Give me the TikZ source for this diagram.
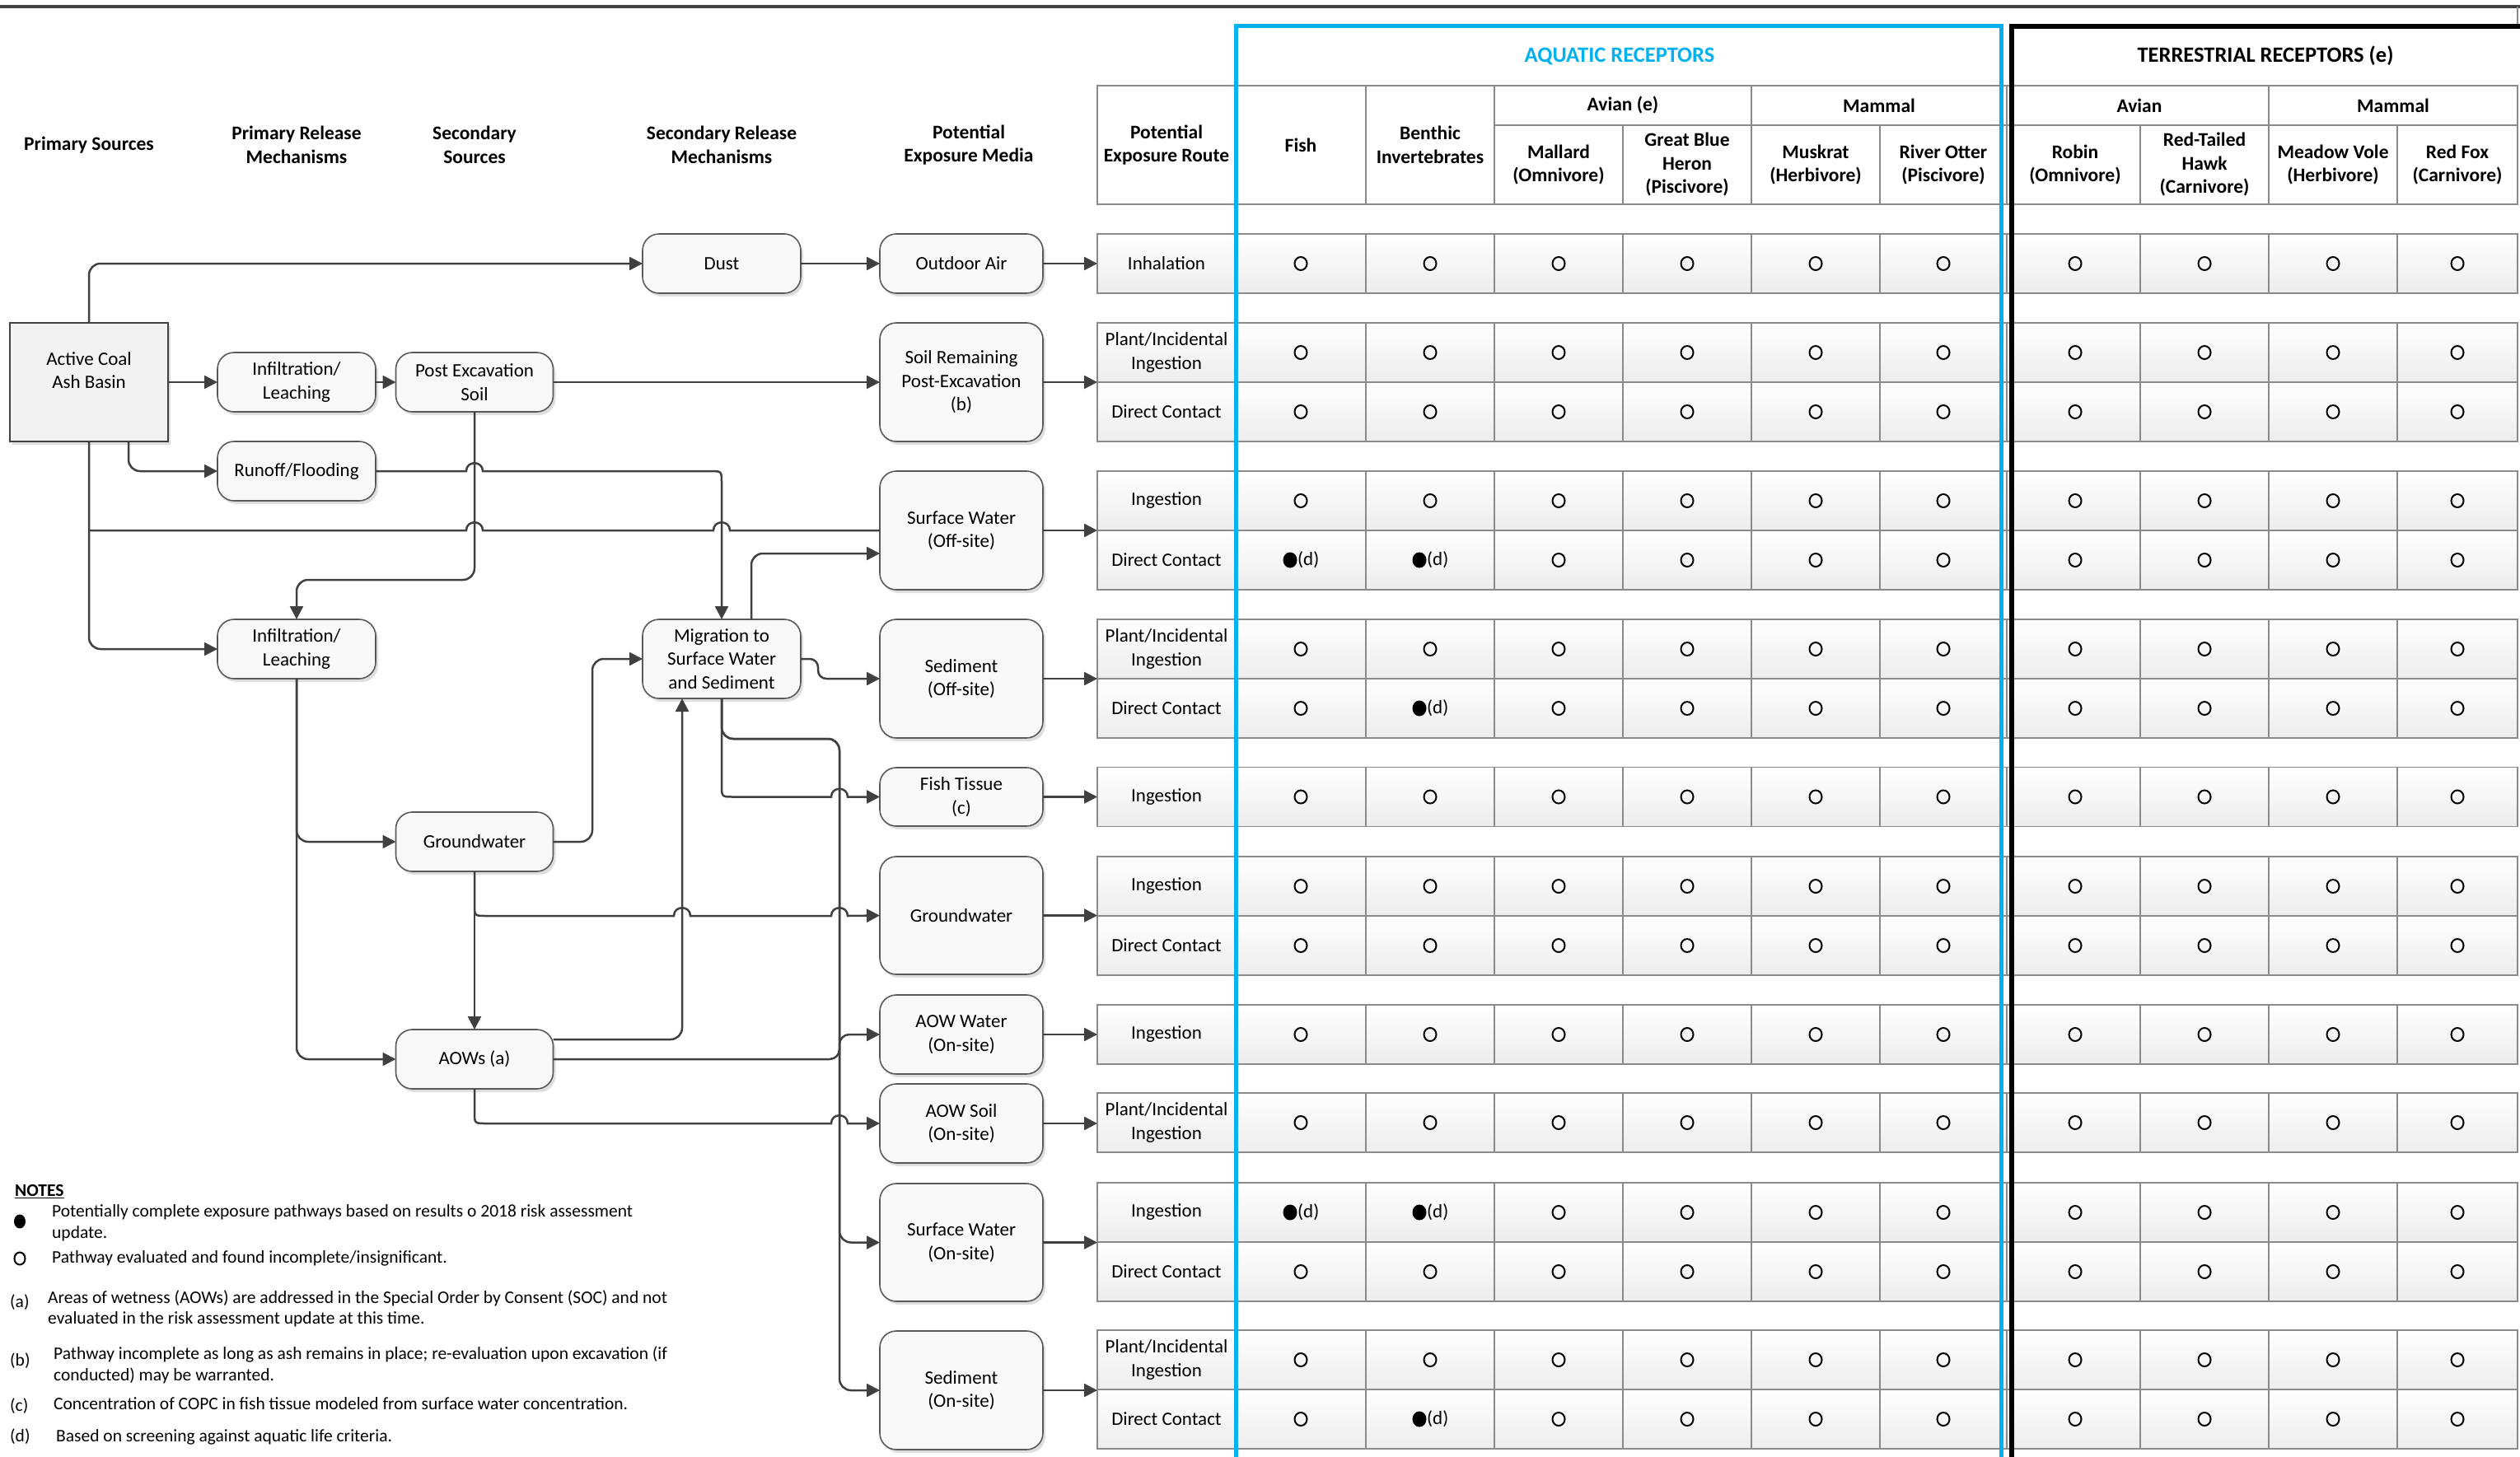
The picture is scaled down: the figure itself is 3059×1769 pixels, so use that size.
\documentclass[tikz,border=0pt]{standalone}
\usepackage{fontspec}
\setmainfont{Carlito}
\usetikzlibrary{arrows.meta,shadows}
\definecolor{lc}{HTML}{404040}
\definecolor{aq}{HTML}{00B0F0}
\definecolor{bx}{HTML}{F8F8F8}
\definecolor{bd}{HTML}{595959}
\definecolor{cg}{HTML}{ECECEC}
\definecolor{gl}{HTML}{8A8A8A}
\newcommand\hopx[2]{-- ({#1-10},#2) .. controls ({#1-10},{#2-13}) and ({#1+10},{#2-13}) .. ({#1+10},#2)}
\tikzset{
  conn/.style={draw=lc, line width=2.5pt, -{Triangle[length=16pt,width=16pt]}},
  connr/.style={conn, rounded corners=14pt},
  plainline/.style={draw=lc, line width=2.5pt},
  flowbox/.style={draw=bd, line width=1.6pt, fill=bx, rounded corners=20pt, align=center,
     inner sep=2pt, outer sep=0pt, font=\fontsize{23}{28.5}\selectfont,
     drop shadow={shadow xshift=3pt, shadow yshift=-4pt, fill=black, opacity=0.13}},
  hdr/.style={font=\bfseries\fontsize{23.5}{28.5}\selectfont, align=center, inner sep=0pt},
  ttl/.style={font=\bfseries\fontsize{26.5}{30}\selectfont, align=center, inner sep=0pt},
  cellbox/.style={draw=gl, line width=1.5pt, top color=white, bottom color=cg},
  hcellbox/.style={draw=gl, line width=1.5pt, fill=white},
  ctext/.style={font=\fontsize{23}{28.5}\selectfont, align=center, inner sep=0pt},
  notetext/.style={font=\fontsize{21.5}{25.5}\selectfont, align=left, inner sep=0pt, anchor=west},
  opn/.style={draw=black, line width=2pt},
}
\begin{document}
\begin{tikzpicture}[x=1pt,y=-1pt]
\useasboundingbox (0,0) rectangle (3059,1769);

% ---------- top rule ----------
\draw[lc, line width=4pt] (0,8) -- (3059,8);
\draw[gl, line width=1.5pt] (3056,8) -- (3056,32);

% ---------- table body cells ----------
\foreach \yc in {320,428,500,608,680,788,860,967.5,1076,1148,1256,1363,1472,1544,1651,1723}{
  \foreach \xa/\xb in {1332/1500,1500/1658,1658/1814,1814/1970,1970/2126,2126/2282,2282/2436,2436/2598,2598/2754,2754/2910,2910/3056}{
    \path[cellbox] (\xa,{\yc-36}) rectangle (\xb,{\yc+36});
  }
}
% ---------- table header cells ----------
\draw[hcellbox] (1332,104) rectangle (1500,248);
\draw[hcellbox] (1500,104) rectangle (1658,248);
\draw[hcellbox] (1658,104) rectangle (1814,248);
\draw[hcellbox] (1814,104) rectangle (2126,152);
\draw[hcellbox] (2126,104) rectangle (2436,152);
\draw[hcellbox] (1814,152) rectangle (1970,248);
\draw[hcellbox] (1970,152) rectangle (2126,248);
\draw[hcellbox] (2126,152) rectangle (2282,248);
\draw[hcellbox] (2282,152) rectangle (2436,248);
\draw[hcellbox] (2436,104) rectangle (2754,152);
\draw[hcellbox] (2754,104) rectangle (3056,152);
\draw[hcellbox] (2436,152) rectangle (2598,248);
\draw[hcellbox] (2598,152) rectangle (2754,248);
\draw[hcellbox] (2754,152) rectangle (2910,248);
\draw[hcellbox] (2910,152) rectangle (3056,248);

% ---------- receptor frames ----------
\draw[aq, line width=5pt] (1500,1780) -- (1500,32) -- (2429,32) -- (2429,1780);
\draw[black, line width=6pt] (2442,1780) -- (2442,32) -- (3065,32);

% ---------- header texts ----------
\node[hdr] (hps) at (108,176) {Primary Sources};
\node[hdr] (hprm) at (360,176) {Primary Release\\Mechanisms};
\node[hdr] (hss) at (576,176) {Secondary\\Sources};
\node[hdr] (hsrm) at (876,176) {Secondary Release\\Mechanisms};
\node[hdr] (hpem) at (1176,176) {Potential\\Exposure Media};
\node[hdr] (hper) at (1416,176) {Potential\\Exposure Route};
\node[ttl, text=aq] (aqt) at (1966,68) {AQUATIC RECEPTORS};
\node[ttl] (tet) at (2750,68) {TERRESTRIAL RECEPTORS (e)};
\node[hdr] (hfish) at (1579,176) {Fish};
\node[hdr] (hben) at (1736,176) {Benthic\\Invertebrates};
\node[hdr] (hav1) at (1970,128) {Avian (e)};
\node[hdr] (hma1) at (2281,128) {Mammal};
\node[hdr] (hav2) at (2597,128) {Avian};
\node[hdr] (hma2) at (2905,128) {Mammal};
\node[hdr] (hmal) at (1892,200) {Mallard\\(Omnivore)};
\node[hdr] (hgbh) at (2048,200) {Great Blue\\Heron\\(Piscivore)};
\node[hdr] (hmus) at (2204,200) {Muskrat\\(Herbivore)};
\node[hdr] (hrot) at (2359,200) {River Otter\\(Piscivore)};
\node[hdr] (hrob) at (2519,200) {Robin\\(Omnivore)};
\node[hdr] (hrth) at (2676,200) {Red-Tailed\\Hawk\\(Carnivore)};
\node[hdr] (hmv) at (2832,200) {Meadow Vole\\(Herbivore)};
\node[hdr] (hrf) at (2983,200) {Red Fox\\(Carnivore)};

% ---------- route labels ----------
\node[ctext] (r1) at (1416,320) {Inhalation};
\node[ctext] (r2) at (1416,428) {Plant/Incidental\\Ingestion};
\node[ctext] (r3) at (1416,500) {Direct Contact};
\node[ctext] (r4) at (1416,608) {Ingestion};
\node[ctext] (r5) at (1416,680) {Direct Contact};
\node[ctext] (r6) at (1416,788) {Plant/Incidental\\Ingestion};
\node[ctext] (r7) at (1416,860) {Direct Contact};
\node[ctext] (r8) at (1416,967.5) {Ingestion};
\node[ctext] (r9) at (1416,1076) {Ingestion};
\node[ctext] (r10) at (1416,1148) {Direct Contact};
\node[ctext] (r11) at (1416,1256) {Ingestion};
\node[ctext] (r12) at (1416,1363) {Plant/Incidental\\Ingestion};
\node[ctext] (r13) at (1416,1472) {Ingestion};
\node[ctext] (r14) at (1416,1544) {Direct Contact};
\node[ctext] (r15) at (1416,1651) {Plant/Incidental\\Ingestion};
\node[ctext] (r16) at (1416,1723) {Direct Contact};

% ---------- pathway marks ----------
\foreach \yc/\fa/\fb in {320/0/0,428/0/0,500/0/0,608/0/0,680/1/1,788/0/0,860/0/1,967.5/0/0,1076/0/0,1148/0/0,1256/0/0,1363/0/0,1472/1/1,1544/0/0,1651/0/0,1723/0/1}{
  \foreach \xc in {1892,2048,2204,2359,2519,2676,2832,2983}{\draw[opn] (\xc,\yc) ellipse (7.5pt and 8pt);}
  \ifnum\fa=1
    \fill (1566,\yc) ellipse (8.5pt and 9.5pt);
    \node[ctext,anchor=west] (dA\yc) at (1575,\yc) {(d)};
  \else
    \draw[opn] (1579,\yc) ellipse (7.5pt and 8pt);
  \fi
  \ifnum\fb=1
    \fill (1723,\yc) ellipse (8.5pt and 9.5pt);
    \node[ctext,anchor=west] (dB\yc) at (1732,\yc) {(d)};
  \else
    \draw[opn] (1736,\yc) ellipse (7.5pt and 8pt);
  \fi
}

% ---------- flow boxes ----------
\node[flowbox, sharp corners, draw=lc, line width=2.5pt, fill=black!5, minimum width=192pt, minimum height=144pt] (basin) at (108,464) {Active Coal\\Ash Basin\\~};
\node[flowbox, minimum width=192pt, minimum height=72pt] (inf1) at (360,464) {Infiltration/\\Leaching};
\node[flowbox, minimum width=192pt, minimum height=72pt] (runoff) at (360,572) {Runoff/Flooding};
\node[flowbox, minimum width=191pt, minimum height=72pt] (pes) at (576,464) {Post Excavation\\Soil};
\node[flowbox, minimum width=192pt, minimum height=72pt] (inf2) at (360,788) {Infiltration/\\Leaching};
\node[flowbox, minimum width=192pt, minimum height=72pt] (dust) at (876,320) {Dust};
\node[flowbox, minimum width=192pt, minimum height=96pt] (mig) at (876,800) {Migration to\\Surface Water\\and Sediment};
\node[flowbox, minimum width=191pt, minimum height=72pt] (gws) at (576,1022) {Groundwater};
\node[flowbox, minimum width=191pt, minimum height=72pt] (aows) at (576,1286) {AOWs (a)};

\node[flowbox, minimum width=198pt, minimum height=72pt] (oair) at (1167,320) {Outdoor Air};
\node[flowbox, minimum width=198pt, minimum height=144pt] (soilrem) at (1167,464) {Soil Remaining\\Post-Excavation\\(b)};
\node[flowbox, minimum width=198pt, minimum height=144pt] (swoff) at (1167,644) {Surface Water\\(Off-site)};
\node[flowbox, minimum width=198pt, minimum height=144pt] (sedoff) at (1167,824) {Sediment\\(Off-site)};
\node[flowbox, minimum width=198pt, minimum height=71pt] (fishm) at (1167,967.5) {Fish Tissue\\(c)};
\node[flowbox, minimum width=198pt, minimum height=143pt] (gwm) at (1167,1111.5) {Groundwater};
\node[flowbox, minimum width=198pt, minimum height=96pt] (aoww) at (1167,1256) {AOW Water\\(On-site)};
\node[flowbox, minimum width=198pt, minimum height=96pt] (aowsl) at (1167,1364) {AOW Soil\\(On-site)};
\node[flowbox, minimum width=198pt, minimum height=143pt] (swon) at (1167,1508.5) {Surface Water\\(On-site)};
\node[flowbox, minimum width=198pt, minimum height=144pt] (sedon) at (1167,1688) {Sediment\\(On-site)};

% table entry points
\coordinate (t1) at (1332,320);
\coordinate (t2) at (1332,464);
\coordinate (t3) at (1332,644);
\coordinate (t4) at (1332,824);
\coordinate (t5) at (1332,967.5);
\coordinate (t6) at (1332,1111.5);
\coordinate (t7) at (1332,1256);
\coordinate (t8) at (1332,1364);
\coordinate (t9) at (1332,1508.5);
\coordinate (t10) at (1332,1688);
\coordinate (jA) at (108,644);

% ---------- connectors ----------
\draw[connr] (basin.north) |- (dust.west);
\draw[conn] (dust.east) -- (oair.west);
\draw[conn] (basin.east) -- (inf1.west);
\draw[conn] (inf1.east) -- (pes.west);
\draw[conn] (pes.east) -- (soilrem.west);
\draw[connr] ([xshift=48pt]basin.south) |- (runoff.west);
\draw[conn] (runoff.east) \hopx{576}{572} -- (862,572) .. controls (876,572) .. (876,586) -- (mig.north);
\draw[plainline] (jA) \hopx{576}{644} \hopx{876}{644} -- (swoff.west);
\draw[connr] (basin.south) |- (inf2.west);
\draw[connr] (pes.south) -- (576,704) -| (inf2.north);
\draw[connr] ([xshift=36pt]mig.north) |- ([yshift=-28pt]swoff.west);
\draw[conn, rounded corners=10pt] (mig.east) -- (993,800) -- (993,824) -- (sedoff.west);
\draw[conn] (mig.south) -- (876,953) .. controls (876,967.5) .. (890,967.5) \hopx{1019}{967.5} -- (fishm.west);
\draw[connr] (mig.south) |- (1019,897) |- (swon.west);
\draw[connr] (mig.south) |- (1019,897) |- (sedon.west);
\draw[connr] (inf2.south) |- (gws.west);
\draw[connr] (inf2.south) |- (aows.west);
\draw[connr] (gws.east) -- (719,1022) |- (mig.west);
\draw[conn] (gws.south) -- (576,1098) .. controls (576,1112) .. (590,1112) \hopx{828}{1112} \hopx{1019}{1112} -- (gwm.west);
\draw[conn] (gws.south) -- (aows.north);
\draw[connr] ([yshift=24pt]aows.east) -| ([xshift=-48pt]mig.south);
\draw[conn, rounded corners=12pt] (aows.east) -- (1019,1286) |- (aoww.west);
\draw[conn] (aows.south) -- (576,1350) .. controls (576,1364) .. (590,1364) \hopx{1019}{1364} -- (aowsl.west);

\draw[conn] (oair.east) -- (t1);
\draw[conn] (soilrem.east) -- (t2);
\draw[conn] (swoff.east) -- (t3);
\draw[conn] (sedoff.east) -- (t4);
\draw[conn] (fishm.east) -- (t5);
\draw[conn] (gwm.east) -- (t6);
\draw[conn] (aoww.east) -- (t7);
\draw[conn] (aowsl.east) -- (t8);
\draw[conn] (swon.east) -- (t9);
\draw[conn] (sedon.east) -- (t10);

% ---------- notes ----------
\node[font=\bfseries\fontsize{21.5}{25}\selectfont, anchor=west, inner sep=0pt] (notes) at (18,1447) {\underline{NOTES}};
\fill (24,1483) ellipse (7pt and 8.5pt);
\node[notetext] (n1) at (63,1484.5) {Potentially complete exposure pathways based on results o 2018 risk assessment\\update.};
\draw[opn] (24,1528) ellipse (6.5pt and 7.5pt);
\node[notetext] (n2) at (63,1528) {Pathway evaluated and found incomplete/insignificant.};
\node[notetext] (la) at (12,1581) {(a)};
\node[notetext] (n3) at (58,1589) {Areas of wetness (AOWs) are addressed in the Special Order by Consent (SOC) and not\\evaluated in the risk assessment update at this time.};
\node[notetext] (lb) at (12,1652) {(b)};
\node[notetext] (n4) at (65,1657.5) {Pathway incomplete as long as ash remains in place; re-evaluation upon excavation (if\\conducted) may be warranted.};
\node[notetext] (lbc) at (12,1707) {(c)};
\node[notetext] (n5) at (65,1704) {Concentration of COPC in fish tissue modeled from surface water concentration.};
\node[notetext] (lbd) at (12,1744) {(d)};
\node[notetext] (n6) at (68,1745) {Based on screening against aquatic life criteria.};
\end{tikzpicture}
\end{document}
